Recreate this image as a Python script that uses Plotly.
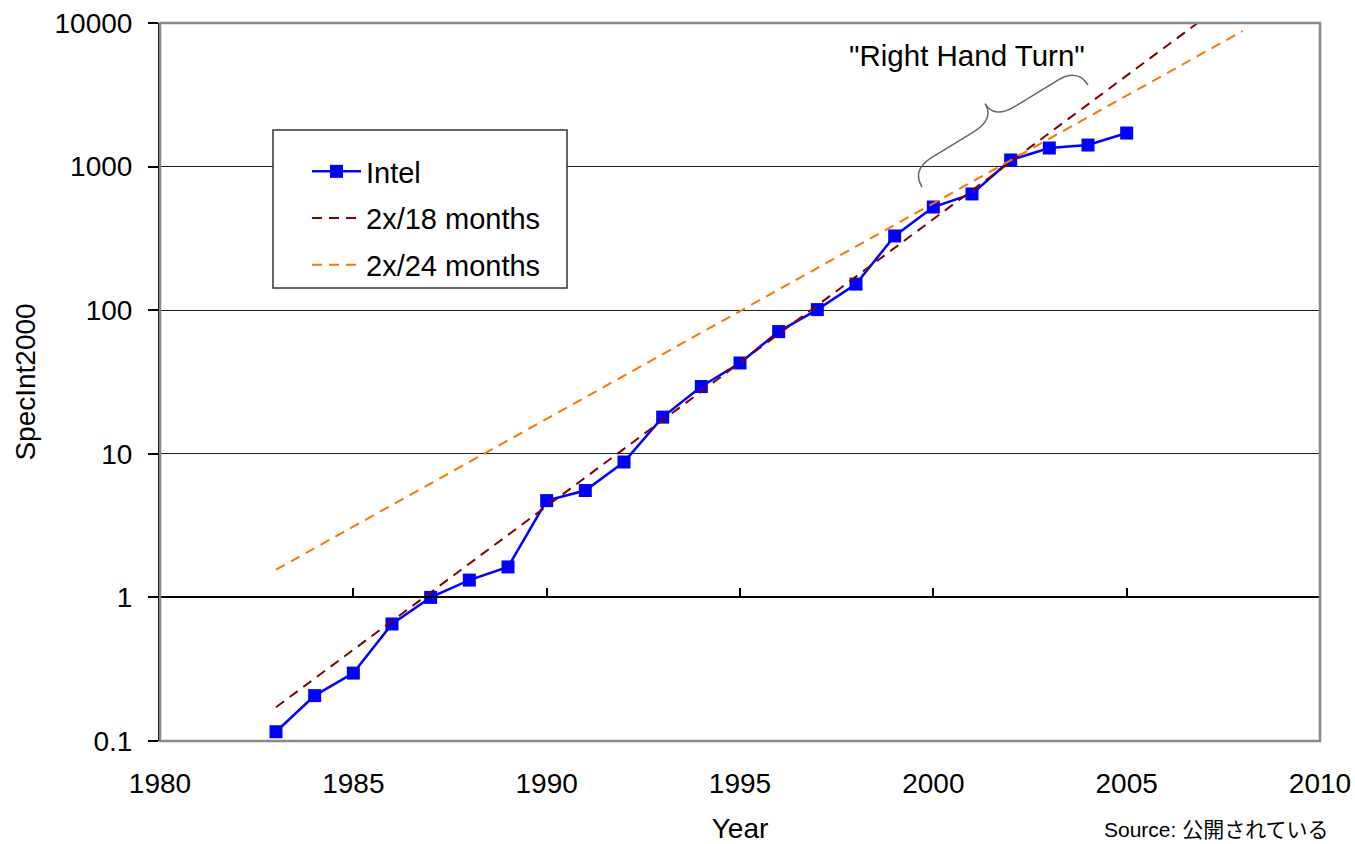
import math
import plotly.graph_objects as go

# ---------------- data ----------------
years = list(range(1983, 2006))
intel = [0.116, 0.207, 0.297, 0.653, 1.0, 1.32, 1.63, 4.72, 5.55, 8.77, 18.0, 29.4,
         42.9, 71.0, 101, 152, 329, 523, 645, 1112, 1347, 1413, 1713]

trend18_years = [1983, 2007]
trend18_vals = [0.172, 10800]

trend24_years = [1983, 2008]
trend24_vals = [1.56, 8800]

x_ticks = [1980, 1985, 1990, 1995, 2000, 2005, 2010]
y_ticks = [0.1, 1, 10, 100, 1000, 10000]
y_ticktext = ["0.1", "1", "10", "100", "1000", "10000"]

FONT = "Liberation Sans, Arial, sans-serif"

# ---------------- figure ----------------
fig = go.Figure()
fig.add_trace(go.Scatter(
    x=years, y=intel, name="Intel", mode="lines+markers", legendgroup="a",
    line=dict(color="#0000FF", width=2.5),
    marker=dict(symbol="square", size=13, color="#0000FF"),
))
fig.add_trace(go.Scatter(
    x=trend18_years, y=trend18_vals, name="2x/18 months", mode="lines",
    legendgroup="b",
    line=dict(color="#800000", width=2, dash="10px,7px"),
))
fig.add_trace(go.Scatter(
    x=trend24_years, y=trend24_vals, name="2x/24 months", mode="lines",
    legendgroup="c",
    line=dict(color="#FF7300", width=2, dash="10px,7px"),
))
# invisible helper trace so the crossing axis (at y = 1) is drawn
fig.add_trace(go.Scatter(
    x=years[:1], y=intel[:1], xaxis="x2", yaxis="y", mode="markers",
    marker=dict(opacity=0), showlegend=False, hoverinfo="skip",
))

# plot-area geometry in pixels (for converting decorations to paper coords)
L, R, T, B = 160, 1320, 23, 741
W, H = R - L, B - T


def px2paper(px, py):
    return (px - L) / W, (B - py) / H


def brace_path(p0, p1, depth, shoulder, curl):
    dx, dy = p1[0] - p0[0], p1[1] - p0[1]
    ln = math.hypot(dx, dy)
    ux, uy = dx / ln, dy / ln
    nx, ny = uy, -ux
    if ny > 0:
        nx, ny = -nx, -ny

    def pt(s, t):
        x = p0[0] + s * ux + t * nx
        y = p0[1] + s * uy + t * ny
        a, b = px2paper(x, y)
        return f"{a:.5f},{b:.5f}"

    m = ln / 2
    h = shoulder
    return (f"M {pt(0, 0)} Q {pt(0, h)} {pt(curl, h)} L {pt(m - curl, h)} "
            f"Q {pt(m, h)} {pt(m, depth)} Q {pt(m, h)} {pt(m + curl, h)} "
            f"L {pt(ln - curl, h)} Q {pt(ln, h)} {pt(ln, 0)}")


lx0, ly0 = px2paper(273, 130)
lx1, ly1 = px2paper(567, 288)
leg_x, leg_y = px2paper(307, 146)

fig.update_layout(
    width=1355, height=844,
    margin=dict(l=L, r=1355 - R, t=T, b=844 - B, autoexpand=False),
    paper_bgcolor="white", plot_bgcolor="white",
    font=dict(family=FONT, size=28, color="black"),
    showlegend=True,
    legend=dict(
        x=leg_x, y=leg_y, xanchor="left", yanchor="top",
        bgcolor="rgba(0,0,0,0)", borderwidth=0,
        font=dict(family=FONT, size=29, color="black"),
        itemwidth=49, tracegroupgap=6,
    ),
    xaxis=dict(
        range=[1980, 2010], tickvals=x_ticks, ticks="", showgrid=False,
        showline=False, zeroline=False, automargin=False,
        tickfont=dict(family=FONT, size=28),
        ticklabelstandoff=23,
        title=dict(text="Year", font=dict(family=FONT, size=28), standoff=25),
    ),
    xaxis2=dict(
        range=[1980, 2010], tickvals=x_ticks, overlaying="x", anchor="free",
        position=0.2, side="bottom", showticklabels=False, showgrid=False,
        showline=True, linecolor="#000000", linewidth=1.5,
        ticks="inside", ticklen=9, tickwidth=1.5, tickcolor="#000000",
        zeroline=False, automargin=False,
    ),
    yaxis=dict(
        type="log", range=[-1, 4], tickvals=y_ticks, ticktext=y_ticktext,
        showgrid=True, gridcolor="#222222", gridwidth=1.2,
        showline=True, linecolor="#000000", linewidth=2,
        ticks="outside", ticklen=10, tickwidth=1.5, tickcolor="#000000",
        tickfont=dict(family=FONT, size=28),
        ticklabelstandoff=10, zeroline=False, automargin=False,
        title=dict(text="SpecInt2000", font=dict(family=FONT, size=28), standoff=11),
    ),
    shapes=[
        dict(type="rect", xref="paper", yref="paper", x0=0, x1=1, y0=0, y1=1,
             line=dict(color="#888888", width=2.5), layer="above"),
        dict(type="rect", xref="paper", yref="paper", x0=lx0, x1=lx1, y0=ly1, y1=ly0,
             line=dict(color="#333333", width=1.5), fillcolor="white", layer="above"),
        dict(type="path", xref="paper", yref="paper",
             path=brace_path((922, 187), (1088, 85), 38, 20, 24),
             line=dict(color="#666666", width=1.5)),
    ],
    annotations=[
        dict(text='"Right Hand Turn"', xref="paper", yref="paper",
             x=px2paper(967, 55)[0], y=px2paper(967, 55)[1],
             xanchor="center", yanchor="middle", showarrow=False,
             font=dict(family=FONT, size=29.5, color="black")),
        dict(text="Source: 公開されている", xref="paper", yref="paper",
             x=px2paper(1102, 830)[0], y=px2paper(1102, 830)[1],
             xanchor="left", yanchor="middle", showarrow=False,
             font=dict(family="Liberation Sans, Noto Sans CJK JP, sans-serif",
                       size=21, color="black")),
    ],
)

fig.write_html("out.html")
